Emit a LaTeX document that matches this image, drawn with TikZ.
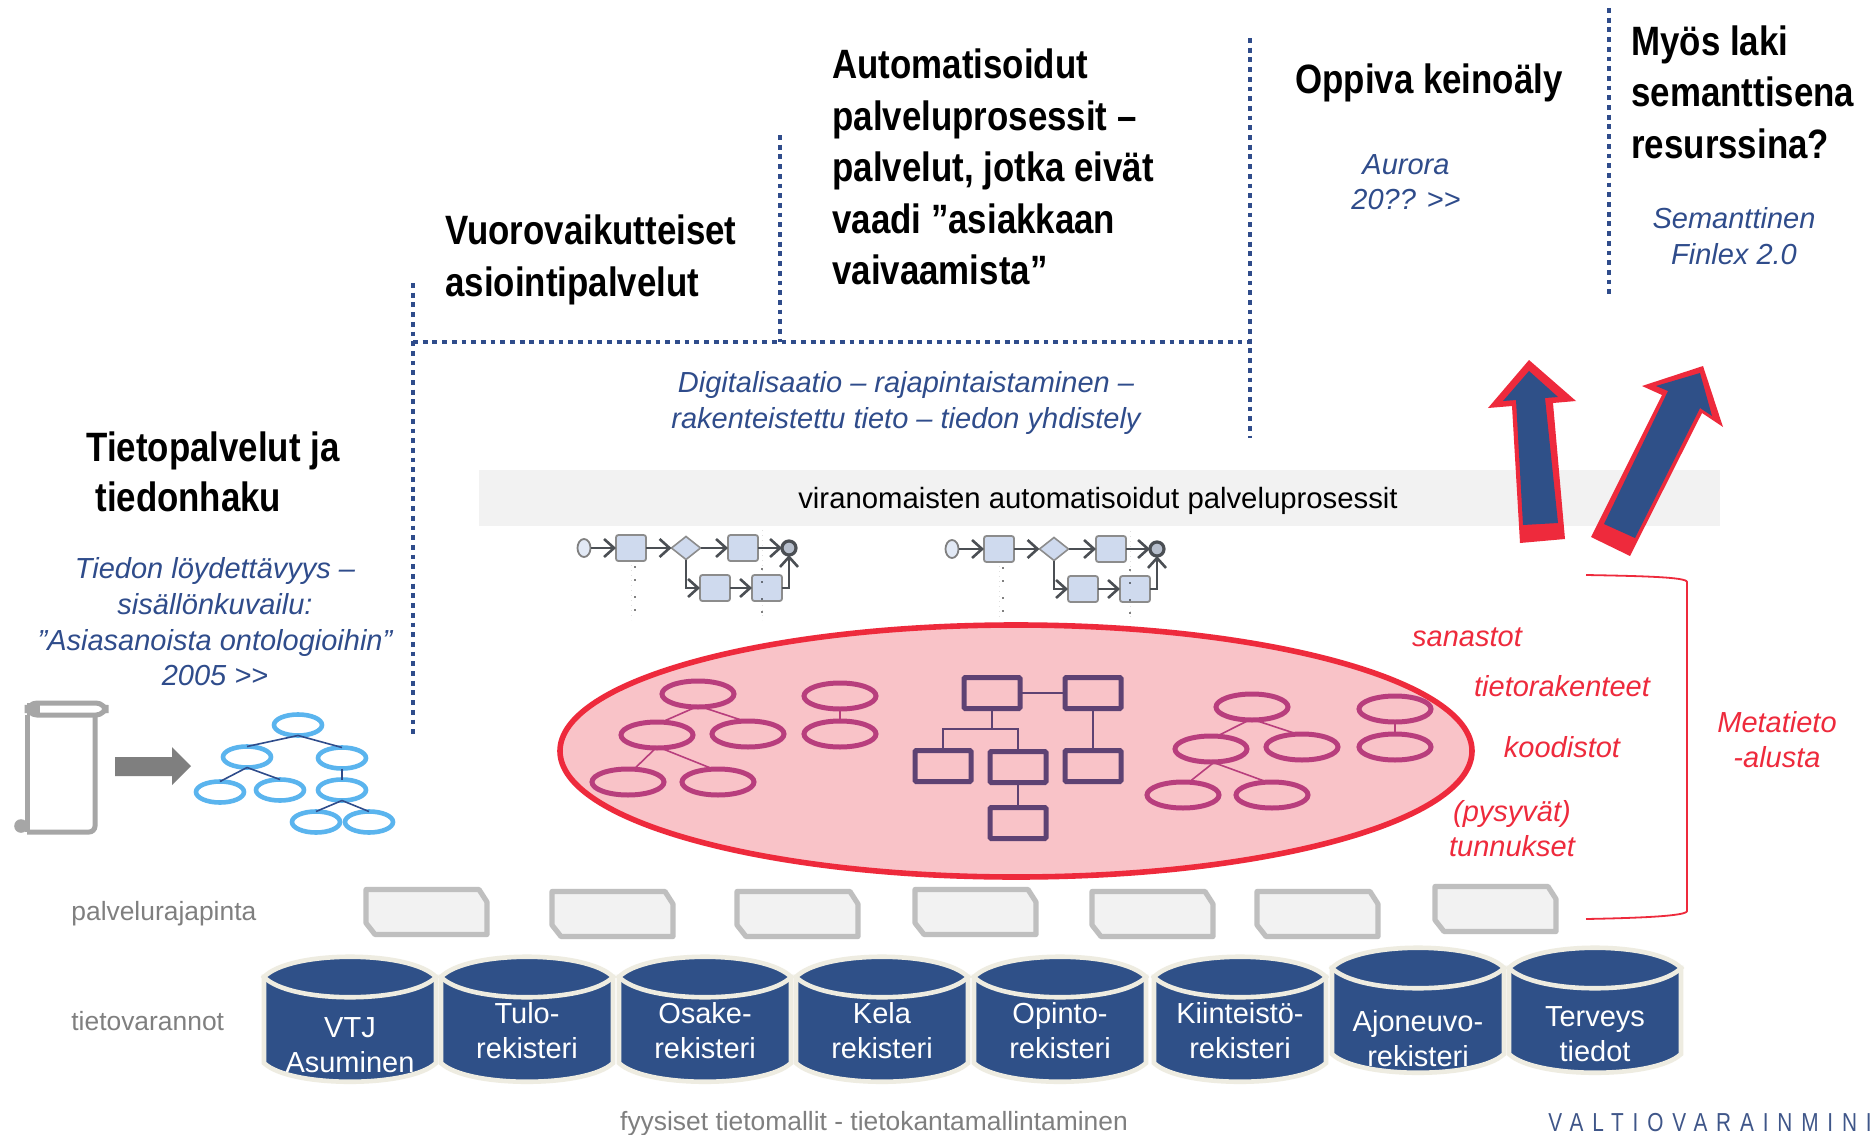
\documentclass[tikz,border=0pt]{standalone}
\usepackage{fontspec}
\usetikzlibrary{arrows.meta,shapes.geometric,calc}
\setmainfont{Liberation Sans}
\newfontfamily\titlefont[FakeStretch=0.85]{Liberation Sans Bold}
\newfontfamily\logofont[FakeStretch=0.8,LetterSpace=34]{Liberation Sans}
\definecolor{navy}{HTML}{2F5088}
\definecolor{inkblue}{HTML}{2F4C8B}
\definecolor{redline}{HTML}{EE2A3C}
\definecolor{pinkfill}{HTML}{F9C3C8}
\definecolor{plum}{HTML}{B83E7D}
\definecolor{violet}{HTML}{5E4273}
\definecolor{skyb}{HTML}{5AB4EE}
\definecolor{cream}{HTML}{EEECE1}
\definecolor{graytxt}{HTML}{7F7F7F}
\definecolor{tabgray}{HTML}{BFBFBF}
\definecolor{tabfill}{HTML}{F2F2F2}
\definecolor{procfill}{HTML}{CFDAEE}
\definecolor{procline}{HTML}{4B4F54}
\tikzset{
  x=0.5pt,y=-0.5pt,
  dotline/.style={draw=inkblue,line width=2.4pt,dash pattern=on 2.4pt off 2.45pt},
  titletxt/.style={font=\titlefont\fontsize{20.5}{25.75}\selectfont,anchor=west,align=left,inner sep=0pt},
  bluetxt/.style={font=\itshape\fontsize{14.5}{17.8}\selectfont,text=inkblue,align=center,inner sep=0pt},
  redtxt/.style={font=\itshape\fontsize{14.5}{17.5}\selectfont,text=redline,align=center,inner sep=0pt},
  graylab/.style={font=\fontsize{13.2}{16}\selectfont,text=graytxt,inner sep=0pt},
  treeell/.style={ellipse,draw=skyb,line width=2.3pt,minimum width=24pt,minimum height=10.5pt,inner sep=0pt,outer sep=0pt},
  treeline/.style={draw=inkblue,line width=0.8pt},
  plumell/.style={ellipse,draw=plum,line width=2.5pt,minimum width=36pt,minimum height=13pt,inner sep=0pt,outer sep=0pt},
  plumline/.style={draw=plum,line width=0.8pt},
  violetbox/.style={rectangle,draw=violet,line width=2.5pt,rounded corners=0.6pt,minimum width=28pt,minimum height=15.5pt,inner sep=0pt,outer sep=0pt},
  violetline/.style={draw=violet,line width=0.8pt},
  tabshape/.style={draw=tabgray,fill=tabfill,line width=2.6pt,line join=round},
  cyltxt/.style={font=\fontsize{14.5}{17.5}\selectfont,text=white,align=center,inner sep=0pt},
  proctask/.style={rectangle,draw=gray!90,fill=procfill,line width=0.9pt,rounded corners=1.2pt,minimum width=15pt,minimum height=13pt,inner sep=0pt,outer sep=0pt},
  procarrow/.style={draw=procline,line width=1.3pt,-{Straight Barb[length=5pt,width=9pt]}},
  lane/.style={draw=gray!25,line width=0.5pt,dotted},
}
\newcommand{\apitab}[4]{%
  \path[tabshape] (#2+2,#3+2.5) -- (#2+115,#3+2.5) -- (#2+123,#3+15) -- (#2+123,#3+47.5) -- (#2+11,#3+47.5) -- (#2+2,#3+36) -- cycle;
  \coordinate (#1) at (#2+62,#3+25);
}
\newcommand{\cyl}[5]{%
  \path[fill=navy,draw=cream,line width=2.3pt] (#2-86,#3) -- (#2-86,#3+86)
    .. controls (#2-60,#3+111) and (#2+60,#3+111) .. (#2+86,#3+86) -- (#2+86,#3) -- cycle;
  \path[fill=navy,draw=cream,line width=2.3pt] (#2-86,#3)
    .. controls (#2-60,#3+27) and (#2+60,#3+27) .. (#2+86,#3)
    .. controls (#2+60,#3-27) and (#2-60,#3-27) .. (#2-86,#3) -- cycle;
  \node[cyltxt] (#1) at (#2,#3+#5) {#4};
}
\tikzset{
  procicon/.pic={
    \draw[lane] (631,560) -- (631,620);
    \draw[lane] (762,530) -- (762,620);
    \node[ellipse,draw=gray,fill=procfill!60,line width=0.9pt,minimum width=6.5pt,minimum height=9pt,inner sep=0pt] (-s) at (584,548) {};
    \node[proctask] (-a) at (631,548) {};
    \node[diamond,draw=gray!90,fill=procfill,line width=0.8pt,minimum width=14.5pt,minimum height=11.5pt,inner sep=0pt,outer sep=0pt] (-d) at (686,548) {};
    \node[proctask] (-b) at (743,548) {};
    \node[circle,draw=procline,fill=procfill!70!gray,line width=1.6pt,minimum width=7pt,inner sep=0pt,outer sep=0pt] (-e) at (789,548) {};
    \node[proctask] (-c) at (715,588) {};
    \node[proctask] (-f) at (767,588) {};
    \draw[procarrow] (-s) -- (-a);
    \draw[procarrow] (-a) -- (-d);
    \draw[procarrow] (-d) -- (-b);
    \draw[procarrow] (-b) -- (-e);
    \draw[procarrow] (-c) -- (-f);
    \draw[procarrow] (-d.south) |- (-c.west);
    \draw[procarrow] (-f.east) -| (-e.south);
    \foreach \ypos in {567,580,597,610}{
      \fill[black] (635,\ypos) circle[radius=0.45pt];
      \fill[black] (762,\ypos+2) circle[radius=0.45pt];
    }
  }
}
\begin{document}
\begin{tikzpicture}
\useasboundingbox (0,0) rectangle (1870,1135);
\fill[white] (0,0) rectangle (1870,1135);

% dotted rules
\coordinate (v1t) at (413,283); \coordinate (v1b) at (413,738);
\coordinate (h1l) at (413,342); \coordinate (h1r) at (1250,342);
\coordinate (v2t) at (780,135); \coordinate (v2b) at (780,342);
\coordinate (v3t) at (1250,38); \coordinate (v3b) at (1250,438);
\coordinate (v4t) at (1609,8);  \coordinate (v4b) at (1609,298);
\draw[dotline] (v1t) -- (v1b);
\draw[dotline] (h1l) -- (h1r);
\draw[dotline] (v2t) -- (v2b);
\draw[dotline] (v3t) -- (v3b);
\draw[dotline] (v4t) -- (v4b);

% titles
\node[titletxt] (t1) at (832,167) {Automatisoidut\\palveluprosessit –\\palvelut, jotka eivät\\vaadi ”asiakkaan\\vaivaamista”};
\node[titletxt] (t2) at (445,260) {Vuorovaikutteiset\\asiointipalvelut};
\node[titletxt] (t3) at (1295,83) {Oppiva keinoäly};
\node[titletxt] (t4) at (1631,92) {Myös laki\\semanttisena\\resurssina?};
\node[titletxt] (t5) at (86,451) {Tietopalvelut ja};
\node[titletxt] (t6) at (95,497) {tiedonhaku};

% blue italics
\node[bluetxt] (b1) at (906,403) {Digitalisaatio – rajapintaistaminen –\\rakenteistettu tieto – tiedon yhdistely};
\node[bluetxt] (b2) at (215,622) {Tiedon löydettävyys –\\sisällönkuvailu:\\”Asiasanoista ontologioihin”\\2005 >{}>};
\node[bluetxt] (b3) at (1406,182) {Aurora\\20?? >{}>};
\node[bluetxt] (b4) at (1734,236) {Semanttinen\\Finlex 2.0};

% band
\fill[tabfill] (479,470) rectangle (1720,526);
\node[font=\fontsize{14.65}{17}\selectfont,inner sep=0pt] (band) at (1098,501) {viranomaisten automatisoidut palveluprosessit};

% process icons
\pic (pa) at (0,0) {procicon};
\begin{scope}[shift={(368,1)}]
\pic (pb) at (0,0) {procicon};
\end{scope}

% big ellipse
\node[ellipse,draw=redline,fill=pinkfill,line width=2.8pt,minimum width=456pt,minimum height=126pt,inner sep=0pt,outer sep=0pt] (meta) at (1016,751) {};

% left plum cluster
\node[plumell] (p1) at (698,694) {};
\node[plumell] (p2) at (657,735) {};
\node[plumell] (p3) at (748,734) {};
\node[plumell] (p4) at (628,782) {};
\node[plumell] (p5) at (718,782) {};
\node[plumell] (p6) at (840,696) {};
\node[plumell] (p7) at (840,734) {};
\draw[plumline] (p1.262) -- (p2.70);
\draw[plumline] (p1.285) -- (p3.105);
\draw[plumline] (p2.265) -- (p4.65);
\draw[plumline] (p2.285) -- (p5.110);
\draw[plumline] (p6) -- (p7);

% right plum cluster
\node[plumell] (q1) at (1252,707) {};
\node[plumell] (q2) at (1211,749) {};
\node[plumell] (q3) at (1302,747) {};
\node[plumell] (q4) at (1183,795) {};
\node[plumell] (q5) at (1272,795) {};
\node[plumell] (q6) at (1395,709) {};
\node[plumell] (q7) at (1395,747) {};
\draw[plumline] (q1.258) -- (q2.65);
\draw[plumline] (q1.280) -- (q3.110);
\draw[plumline] (q2.285) -- (q4.65);
\draw[plumline] (q2.275) -- (q5.110);
\draw[plumline] (q6) -- (q7);

% boxes
\node[violetbox] (r1) at (992,693) {};
\node[violetbox] (r2) at (1093,693) {};
\node[violetbox] (r3) at (943,766) {};
\node[violetbox] (r4) at (1018,767) {};
\node[violetbox] (r5) at (1093,766) {};
\node[violetbox] (r6) at (1018,823) {};
\coordinate (rj) at (992,729);
\draw[violetline] (r1) -- (r2);
\draw[violetline] (r1) -- (rj);
\draw[violetline] (r3.north) |- (rj) -| (r4.north);
\draw[violetline] (r2) -- (r5);
\draw[violetline] (r4) -- (r6);

% red labels
\node[redtxt] (s1) at (1467,637) {sanastot};
\node[redtxt] (s2) at (1562,686) {tietorakenteet};
\node[redtxt] (s3) at (1562,747) {koodistot};
\node[redtxt] (s4) at (1512,829) {(pysyvät)\\tunnukset};
\node[redtxt] (s5) at (1777,740) {Metatieto\\-alusta};

% bracket
\coordinate (br1) at (1586,575); \coordinate (br2) at (1586,919);
\draw[redline,line width=0.9pt] (br1) .. controls (1640,576) and (1687,577) .. (1687,582) -- (1687,911) .. controls (1687,916) and (1640,918) .. (br2);

% red-blue arrows
\fill[redline] (1529,360) -- (1576,401) -- (1553,403) -- (1565,539) -- (1520,543) -- (1512,406) -- (1488,408) -- cycle;
\fill[navy] (1529,371) -- (1558,397) -- (1545,398) -- (1558,523) -- (1523,525) -- (1516,400) -- (1503,401) -- cycle;
\fill[redline] (1703,366) -- (1723,427) -- (1702,413) -- (1630,556) -- (1591,537) -- (1662,395) -- (1642,386) -- cycle;
\fill[navy] (1700,373) -- (1712,416) -- (1700,408) -- (1635,538) -- (1604,524) -- (1668,391) -- (1656,386) -- cycle;

% scroll
\begin{scope}[draw=black!35,line width=2.5pt]
\draw[rounded corners=5pt] (27,715) -- (27,703) -- (106,703) -- (106,715) -- cycle;
\draw[rounded corners=3pt] (95,715) -- (95,832) -- (27,832);
\draw (27,715) -- (27,832);
\fill[black!35] (21,826) circle[radius=3.4pt];
\fill[black!35] (27,703) rectangle (40,715);
\end{scope}
\coordinate (ga) at (115,766);
\fill[graytxt] (115,757) -- (172,757) -- (172,747) -- (191,766) -- (172,785) -- (172,776) -- (115,776) -- cycle;

% light blue tree
\node[treeell] (n1) at (298,725) {};
\node[treeell] (n2) at (247,757) {};
\node[treeell] (n3) at (342,758) {};
\node[treeell] (n4) at (220,792) {};
\node[treeell] (n5) at (280,790) {};
\node[treeell] (n6) at (342,790) {};
\node[treeell] (n7) at (316,822) {};
\node[treeell] (n8) at (369,822) {};
\draw[treeline] (n1.south) -- (n2.north);
\draw[treeline] (n1.south) -- (n3.north);
\draw[treeline] (n2.south) -- (n4.north);
\draw[treeline] (n2.south) -- (n5.north);
\draw[treeline] (n3.south) -- (n6.north);
\draw[treeline] (n6.south) -- (n7.north);
\draw[treeline] (n6.south) -- (n8.north);

% gray labels
\node[graylab,anchor=west] (l1) at (71,914) {palvelurajapinta};
\node[graylab,anchor=west] (l2) at (71,1021) {tietovarannot};
\node[graylab] (l3) at (874,1124) {fyysiset tietomallit - tietokantamallintaminen};
\node[font=\logofont\fontsize{13}{15}\selectfont,text=inkblue!80!gray,anchor=west,inner sep=0pt] (logo) at (1548,1123) {VALTIOVARAINMINI};

% tabs
\apitab{a1}{364}{887}{}
\apitab{a2}{550}{889}{}
\apitab{a3}{735}{889}{}
\apitab{a4}{913}{887}{}
\apitab{a5}{1090}{889}{}
\apitab{a6}{1255}{889}{}
\apitab{a7}{1433}{884}{}

% cylinders
\cyl{c1}{350}{977}{VTJ\\Asuminen}{68}
\cyl{c2}{527}{977}{Tulo-\\rekisteri}{54}
\cyl{c3}{705}{977}{Osake-\\rekisteri}{54}
\cyl{c4}{882}{977}{Kela\\rekisteri}{54}
\cyl{c5}{1060}{977}{Opinto-\\rekisteri}{54}
\cyl{c6}{1240}{977}{Kiinteistö-\\rekisteri}{54}
\cyl{c7}{1418}{968}{Ajoneuvo-\\rekisteri}{71}
\cyl{c8}{1595}{968}{Terveys\\tiedot}{66}
\end{tikzpicture}
\end{document}
